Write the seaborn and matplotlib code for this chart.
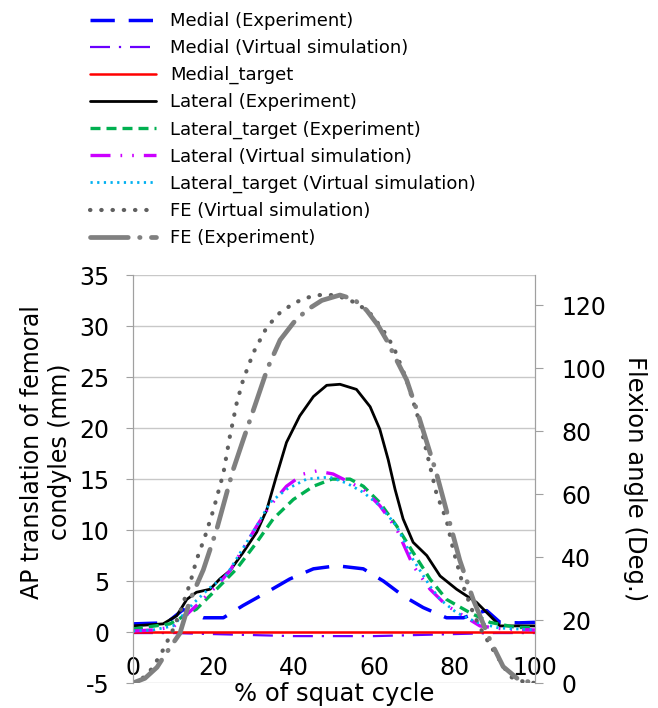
import pandas as pd
import matplotlib.pyplot as plt
import seaborn as sns

# AP translation (mm), left axis
med_exp_x = [0, 4, 8.4, 12.5, 17.5, 22.5, 27.4, 33.3, 39, 44.9, 50.7, 57.3, 62.3, 67.2, 72.2, 78, 82.2, 85, 88,
             91.3, 96, 100]
med_exp_y = [0.8, 0.85, 0.9, 2.2, 1.4, 1.4, 2.6, 3.9, 5.2, 6.2, 6.5, 6.2, 5.0, 3.55, 2.4, 1.4, 1.4, 1.8, 2.1,
             0.95, 0.9, 0.95]

med_sim_x = [0, 10, 20, 30, 40, 50, 60, 70, 80, 90, 100]
med_sim_y = [-0.1, -0.1, -0.2, -0.3, -0.4, -0.4, -0.4, -0.3, -0.2, -0.1, -0.1]

med_tgt_x = [0, 50, 100]
med_tgt_y = [0.0, 0.0, 0.0]

lat_exp_x = [0, 7.5, 10.9, 13.4, 15.8, 19.2, 21.6, 24.1, 27.4, 30.8, 33.3, 35.7, 38.2, 41.5, 44.9, 48.2, 51.5,
             55.6, 59, 61.4, 63.5, 65.2, 67.2, 69.7, 73.1, 76.4, 80.5, 85.5, 88.8, 91.3, 100]
lat_exp_y = [0.6, 0.8, 1.6, 3.2, 3.9, 4.2, 5.2, 6.0, 7.8, 9.8, 12.0, 15.3, 18.6, 21.2, 23.1, 24.2, 24.3,
             23.8, 22.1, 19.9, 16.9, 14.0, 11.1, 8.8, 7.5, 5.5, 4.2, 2.9, 1.6, 0.6, 0.6]

lat_tgt_exp_x = [0, 9.2, 15.8, 20.8, 25.8, 30.8, 34.9, 39.9, 44.9, 49.5, 54, 57.3, 61.4, 65.6, 69.7, 73.9, 78,
                 83.8, 88.8, 95.4, 100]
lat_tgt_exp_y = [0.3, 0.8, 2.25, 4.2, 6.2, 8.8, 11.1, 13.0, 14.3, 15.0, 15.0, 14.3, 12.7, 10.4, 7.8, 5.2, 3.2,
                 1.9, 0.95, 0.45, 0.45]

lat_sim_x = [0, 5, 10, 15.8, 20.8, 24.1, 30.8, 34.1, 38.2, 42.4, 45.7, 49.8, 57.3, 61.4, 65.6, 69.7, 73.9, 78,
             82.2, 86.3, 92, 100]
lat_sim_y = [0.1, 0.2, 0.5, 2.6, 4.5, 6.0, 10.4, 12.4, 14.3, 15.5, 15.8, 15.5, 14.0, 12.4, 10.1, 6.5, 4.2, 2.6,
             1.6, 0.6, 0.3, 0.2]

lat_tgt_sim_x = [0, 5, 10, 15, 19, 23.3, 30.8, 34.1, 38.2, 43.2, 48.9, 53.2, 57.3, 61.4, 65.6, 69.7, 73.9,
                 76.4, 80.5, 85.5, 91, 100]
lat_tgt_sim_y = [0.1, 0.2, 0.6, 2.8, 4.3, 5.6, 10.4, 12.7, 14.0, 15.0, 15.2, 14.6, 13.7, 12.4, 10.4, 7.1, 4.5,
                 3.2, 1.9, 0.95, 0.4, 0.2]

# flexion angle (deg), right axis
fe_sim_x = [0, 3, 5, 7.5, 10, 12, 14.2, 15.8, 17.9, 20, 22.5, 24.1, 25.8, 27.4, 30, 33.3, 36.5, 39.9, 43, 46.5,
            50, 53.2, 56, 59, 62, 64.8, 68, 71.4, 75.5, 78, 79.7, 82.2, 84.7, 87, 89.6, 93.8, 97, 100]
fe_sim_y = [0, 2, 5, 10.5, 17, 23.5, 31.6, 39, 46.4, 54.9, 66.6, 78.2, 88.8, 96.2, 105, 113, 117.5, 120.5,
            122.3, 123.2, 123.2, 122, 120.3, 117.4, 112.5, 106.8, 96.5, 82.4, 60.2, 51.7, 42.2, 30.6, 22, 16,
            10.5, 2, 0.5, 0]

fe_exp_x = [0, 3, 6, 8, 11.7, 14.2, 17.5, 20.8, 24.9, 27.4, 30.8, 33.5, 36.6, 40, 43.2, 47, 51.5, 55, 58.1,
            61, 63.1, 65.6, 68.1, 70.6, 75.5, 81.3, 84.7, 88.8, 92.1, 96, 100]
fe_exp_y = [0, 1.5, 5, 9, 15.8, 26.3, 35.9, 48.6, 67.6, 77.1, 89.8, 100, 108.9, 114.5, 118.4, 121.5, 123.2,
            121.8, 118.4, 113.5, 108.9, 102.5, 96.2, 86.7, 66.6, 39, 26.3, 13.7, 5.2, 1, 0]

sns.set_style("white")
plt.rcParams['font.family'] = ['DejaVu Sans']
plt.rcParams['axes.unicode_minus'] = False
plt.rcParams['text.color'] = 'black'
plt.rcParams['axes.labelcolor'] = 'black'
plt.rcParams['xtick.color'] = 'black'
plt.rcParams['ytick.color'] = 'black'

fig = plt.figure(figsize=(6.58, 7.08), dpi=100)
ax = fig.add_axes([0.202, 0.0353, 0.611, 0.576])
ax2 = ax.twinx()

sns.lineplot(x=med_exp_x, y=med_exp_y, ax=ax, color="#0000FF", lw=2.5, linestyle=(0, (7, 4)),
             label="Medial (Experiment)", zorder=3)
sns.lineplot(x=med_sim_x, y=med_sim_y, ax=ax, color="#6A00FF", lw=1.6, linestyle=(0, (9, 4, 1, 4)),
             label="Medial (Virtual simulation)", zorder=3)
sns.lineplot(x=med_tgt_x, y=med_tgt_y, ax=ax, color="#FF0000", lw=1.8, label="Medial_target", zorder=3)
sns.lineplot(x=lat_exp_x, y=lat_exp_y, ax=ax, color="black", lw=2.0, label="Lateral (Experiment)", zorder=3)
sns.lineplot(x=lat_tgt_exp_x, y=lat_tgt_exp_y, ax=ax, color="#00B050", lw=2.4, linestyle=(0, (3, 1.8)),
             label="Lateral_target (Experiment)", zorder=3)
sns.lineplot(x=lat_sim_x, y=lat_sim_y, ax=ax, color="#CC00FF", lw=2.4, linestyle=(0, (6, 3, 0.5, 3, 0.5, 3)),
             label="Lateral (Virtual simulation)", zorder=3)
sns.lineplot(x=lat_tgt_sim_x, y=lat_tgt_sim_y, ax=ax, color="#00B0F0", lw=2.0, linestyle=(0, (0.8, 1.6)),
             label="Lateral_target (Virtual simulation)", zorder=3)

sns.lineplot(x=fe_sim_x, y=fe_sim_y, ax=ax2, color="#606060", lw=3.0, linestyle=(0, (0.1, 2.6)),
             dash_capstyle="round", label="FE (Virtual simulation)")
sns.lineplot(x=fe_exp_x, y=fe_exp_y, ax=ax2, color="#808080", lw=3.4, linestyle=(0, (8, 2.4, 0.1, 2.4)),
             dash_capstyle="round", label="FE (Experiment)")

ax.set_xlim(0, 100)
ax.set_ylim(-5, 35)
ax2.set_ylim(0, 129.5)
ax.set_xticks([0, 20, 40, 60, 80, 100])
ax.set_yticks(range(-5, 36, 5))
ax2.set_yticks(range(0, 121, 20))

ax.grid(axis="y", color="#C8C8C8", lw=1)
ax.grid(axis="x", visible=False)
ax2.grid(False)

ax.spines["bottom"].set_position(("data", 0))
ax.spines["bottom"].set_color("#A0A0A0")
ax.spines["top"].set_visible(False)
for s in ["left", "right"]:
    ax.spines[s].set_color("#A0A0A0")
    ax2.spines[s].set_color("#A0A0A0")
ax2.spines["top"].set_visible(False)
ax2.spines["bottom"].set_visible(False)

ax.tick_params(axis="x", length=4, color="#A0A0A0", direction="out", pad=13, labelsize=17)
ax.tick_params(axis="y", length=5, color="#A0A0A0", direction="out", left=True, labelsize=17, pad=12)
ax2.tick_params(axis="y", length=6, color="#A0A0A0", direction="out", right=True, labelsize=17, pad=13)

ax.set_ylabel("AP translation of femoral\ncondyles (mm)", fontsize=17, va="center")
ax.yaxis.set_label_coords(-0.216, 0.566)
ax2.set_ylabel("Flexion angle (Deg.)", fontsize=17.5, rotation=270, va="center")
ax2.yaxis.set_label_coords(1.249, 0.5)
ax.set_xlabel("% of squat cycle", fontsize=17.5)
ax.xaxis.set_label_coords(0.5, -0.027, transform=ax.transAxes)
ax.xaxis.label.set_va("center")

h1, l1 = ax.get_legend_handles_labels()
h2, l2 = ax2.get_legend_handles_labels()
ax.get_legend().remove()
ax2.get_legend().remove()
fig.legend(h1 + h2, l1 + l2, loc="upper left", bbox_to_anchor=(0.112, 1.006), frameon=False,
           fontsize=13, handlelength=3.65, handletextpad=0.8, labelspacing=0.5)

fig.savefig("out.png", dpi=100)
